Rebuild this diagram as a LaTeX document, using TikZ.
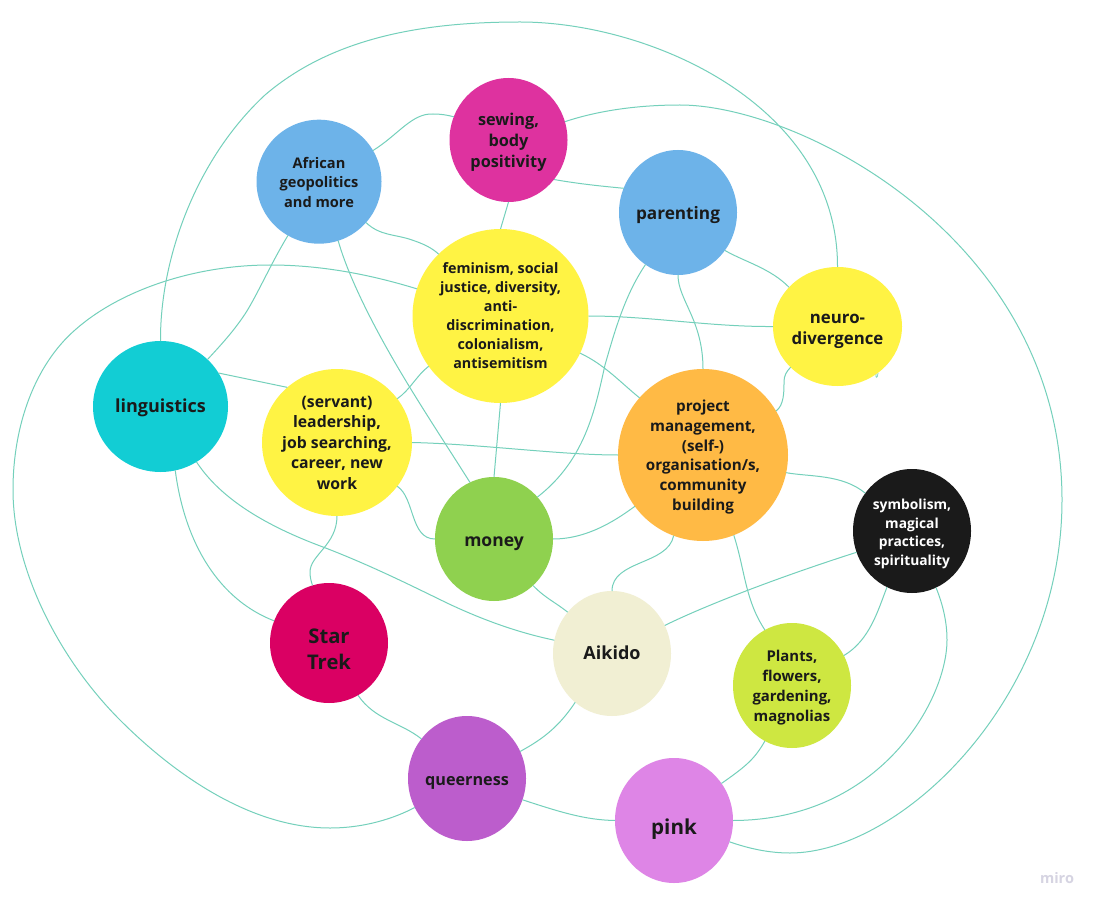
\documentclass[tikz,border=0pt]{standalone}
\usepackage{fontspec}
\setmainfont{Open Sans}
\usetikzlibrary{shapes.geometric}
\definecolor{linkc}{HTML}{74D0BB}
\definecolor{ink}{HTML}{1A1A1A}
\definecolor{cblue}{HTML}{6DB3E9}
\definecolor{cmag}{HTML}{DE329F}
\definecolor{cyel}{HTML}{FFF344}
\definecolor{corg}{HTML}{FFBA45}
\definecolor{cblk}{HTML}{1A1A1A}
\definecolor{ccyan}{HTML}{12CDD4}
\definecolor{cgrn}{HTML}{8FD14F}
\definecolor{ccream}{HTML}{F1EFD3}
\definecolor{clime}{HTML}{CEE741}
\definecolor{cpink}{HTML}{DE85E6}
\definecolor{cpurp}{HTML}{BC5DCC}
\definecolor{ccrim}{HTML}{DA0063}
\definecolor{cmiro}{HTML}{D6D4E2}
\newcommand{\lbl}[2]{\raisebox{-#1pt}[\height][\depth]{\begin{tabular}{@{}c@{}}#2\end{tabular}}}
\tikzset{
  topic/.style n args={5}{ellipse,inner sep=-14pt,outer sep=0pt,draw=none,fill=#1,
    minimum width=#2pt,minimum height=#3pt,text=ink,
    font={\bfseries\fontsize{#4}{#5}\selectfont}},
  link/.style={draw=linkc,line width=1pt}
}
\begin{document}
\begin{tikzpicture}[x=1pt,y=-1pt]
\useasboundingbox (0,0) rectangle (1100,909);
\fill[white] (0,0) rectangle (1100,909);
\coordinate (hook) at (878,373);
\node[topic={cblue}{125}{124}{14.6}{19.5}] (af) at (319,181.7) {\lbl{2}{African\\geopolitics\\and more}};
\node[topic={cmag}{118}{124}{16.3}{21}] (sw) at (508.5,140) {\lbl{2}{sewing,\\body\\positivity}};
\node[topic={cyel}{176}{174}{14.3}{19}] (fe) at (500.5,316) {\lbl{1}{feminism, social\\justice, diversity,\\anti-\\discrimination,\\colonialism,\\antisemitism}};
\node[topic={cblue}{118}{125}{17.2}{21}] (pa) at (678,212.5) {\lbl{3}{parenting}};
\node[topic={cyel}{129}{119}{16.8}{21.5}] (ne) at (837.5,326.5) {\lbl{3}{neuro-\\divergence}};
\node[topic={corg}{170}{172}{15.2}{19.7}] (pr) at (703,455) {\lbl{2}{project\\management,\\(self-)\\organisation/s,\\community\\building}};
\node[topic={cblk}{118}{124}{13.8}{18.5},text=white] (sy) at (912,531) {\lbl{3}{symbolism,\\magical\\practices,\\spirituality}};
\node[topic={ccyan}{135}{131}{18}{21}] (li) at (160.5,406.5) {\lbl{2}{linguistics}};
\node[topic={cyel}{150}{147}{15.8}{20.5}] (se) at (337,442.5) {\lbl{1.5}{(servant)\\leadership,\\job searching,\\career, new\\work}};
\node[topic={cgrn}{118}{124}{17.5}{21}] (mo) at (494,539) {\lbl{3.5}{money}};
\node[topic={ccream}{118}{125}{18}{21}] (ai) at (612,653.5) {\lbl{2}{Aikido}};
\node[topic={ccrim}{118}{120}{20.2}{26}] (st) at (329,643) {\lbl{8}{Star\\Trek}};
\node[topic={cpurp}{118}{125}{16.2}{21}] (qu) at (467,778.5) {\lbl{3}{queerness}};
\node[topic={cpink}{118}{125}{20.6}{24}] (pi) at (674,820.5) {\lbl{9}{pink}};
\node[topic={clime}{118}{125}{14.9}{20}] (pl) at (792,685.5) {\lbl{2}{Plants,\\flowers,\\gardening,\\magnolias}};
\node[font={\bfseries\fontsize{14.5}{16}\selectfont},text=cmiro,inner sep=0pt] (miro) at (1057,878) {miro};

\draw[link] (af.30.5) .. controls (398,135) and (412,113) .. (433,114) .. controls (441,114) and (447,115) .. (sw.157.6);
\draw[link] (sw.-41.5) .. controls (580,184) and (600,186) .. (pa.156.7);
\draw[link] (sw.-90) -- (fe.90);
\draw[link] (af.-41.8) .. controls (380,236) and (395,234) .. (412,240) .. controls (424,244) and (432,248) .. (fe.135.2);
\draw[link] (af.-120.3) .. controls (270,265) and (255,300) .. (243,317) .. controls (232,333) and (220,346) .. (li.45.8);
\draw[link] (af.-72.2) .. controls (345,265) and (360,300) .. (385,345) .. controls (410,390) and (440,435) .. (mo.113.8);
\draw[link] (fe.162.1) .. controls (375,276) and (325,265) .. (270,265) .. controls (195,265) and (120,290) .. (75,330) .. controls (35,365) and (13,425) .. (13,490) .. controls (13,570) and (60,660) .. (120,720) .. controls (180,780) and (255,828) .. (330,828) .. controls (365,828) and (395,818) .. (qu.209.8);
\draw[link] (li.90) .. controls (160,260) and (195,160) .. (265,95) .. controls (335,35) and (430,22) .. (520,22) .. controls (650,22) and (838,105) .. (ne.90);
\draw[link] (li.30.3) -- (se.132.9);
\draw[link] (li.-77.9) .. controls (185,545) and (220,600) .. (st.158.4);
\draw[link] (li.-57.7) .. controls (215,490) and (250,520) .. (323,547) .. controls (370,565) and (410,585) .. (447,603) .. controls (485,621) and (520,633) .. (ai.167.8);
\draw[link] (se.36.2) .. controls (410,390) and (417,375) .. (fe.215.3);
\draw[link] (se.0) .. controls (480,444) and (560,455) .. (pr.180);
\draw[link] (se.-36.2) .. controls (415,498) and (410,539) .. (mo.180);
\draw[link] (se.-90) .. controls (337,545) and (310,555) .. (310,572) .. controls (310,577) and (311,581) .. (st.106.6);
\draw[link] (fe.-90) -- (mo.90);
\draw[link] (fe.0) .. controls (650,316) and (710,327) .. (ne.180);
\draw[link] (fe.-25.1) .. controls (605,365) and (620,382) .. (pr.138);
\draw[link] (pa.238.2) .. controls (625,295) and (615,330) .. (605,365) .. controls (595,410) and (585,460) .. (mo.44.5);
\draw[link] (pa.-90) .. controls (678,300) and (703,320) .. (pr.90);
\draw[link] (pa.-39.2) .. controls (745,262) and (770,268) .. (ne.141);
\draw[link] (pr.31) .. controls (784,405) and (784,392) .. (784,382) .. controls (784,376) and (786,372) .. (ne.221.4);
\draw[link] (pr.-12.3) .. controls (810,477) and (842,474) .. (sy.141.3);
\draw[link] (pr.217.8) .. controls (620,517) and (590,539) .. (mo.0);
\draw[link] (pr.250.6) .. controls (668,565) and (612,560) .. (ai.90);
\draw[link] (pr.-69) .. controls (745,570) and (745,600) .. (pl.116);
\draw[link] (mo.-50.5) .. controls (545,598) and (555,602) .. (ai.137);
\draw[link] (ai.28.5) .. controls (700,608) and (770,580) .. (sy.201);
\draw[link] (ai.233.8) .. controls (560,725) and (545,738) .. (qu.27.4);
\draw[link] (st.-61.7) .. controls (375,720) and (400,722) .. (qu.139.1);
\draw[link] (qu.-21.7) .. controls (560,812) and (585,820) .. (pi.180);
\draw[link] (pi.38.7) .. controls (748,765) and (755,758) .. (pl.244.3);
\draw[link] (pl.30.2) .. controls (870,640) and (878,610) .. (sy.246.7);
\draw[link] (sy.-67.8) .. controls (943,605) and (947,622) .. (947,640) .. controls (947,700) and (880,820) .. (pi.0);
\draw[link] (sw.18.9) .. controls (600,110) and (640,105) .. (680,105) .. controls (800,105) and (1062,240) .. (1062,500) .. controls (1062,700) and (900,853) .. (790,853) .. controls (770,853) and (750,849) .. (pi.-21.6);
\draw[link,line width=0.7pt] (ne.-51) .. controls (875,379) and (878,378) .. (hook);
\end{tikzpicture}
\end{document}
